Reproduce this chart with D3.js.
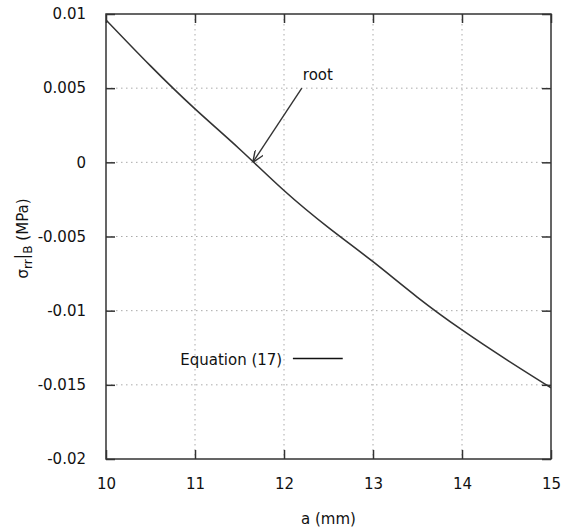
<!DOCTYPE html>
<html>
<head>
<meta charset="utf-8">
<script src="https://cdn.jsdelivr.net/npm/d3@7"></script>
<style>
  body { margin: 0; background: #fff; }
  text { font-family: "DejaVu Sans", Verdana, sans-serif; font-size: 15px; fill: #111; }
</style>
</head>
<body>
<svg width="561" height="529"></svg>
<script>
// Data
var aValues = [10, 10.5, 11, 11.5, 12, 12.5, 13, 13.5, 14, 14.5, 15];
var sigmaValues = [0.0096, 0.0065, 0.0036, 0.0009, -0.0019, -0.0044, -0.0067, -0.0091, -0.0113, -0.0133, -0.0152];
var xTicks = [10, 11, 12, 13, 14, 15];
var yTicks = [0.01, 0.005, 0, -0.005, -0.01, -0.015, -0.02];
var yTickLabels = ['0.01', '0.005', '0', '-0.005', '-0.01', '-0.015', '-0.02'];
var rootPoint = { a: 11.65, s: 0 };
var arrowTail = { a: 12.2, s: 0.005 };
var seriesName = 'Equation (17)';

var svg = d3.select('svg');

var margin = { left: 106, right: 10, top: 14, bottom: 70 };
var width = 561 - margin.left - margin.right;
var height = 529 - margin.top - margin.bottom;

var x = d3.scaleLinear().domain([10, 15]).range([0, width]);
var y = d3.scaleLinear().domain([-0.02, 0.01]).range([height, 0]);

var g = svg.append('g')
  .attr('transform', 'translate(' + margin.left + ',' + margin.top + ')');

// grid lines (dotted)
g.append('g').selectAll('line')
  .data(xTicks.slice(1, -1))
  .enter().append('line')
  .attr('x1', function (d) { return x(d); }).attr('x2', function (d) { return x(d); })
  .attr('y1', 0).attr('y2', height)
  .attr('stroke', '#aaa').attr('stroke-width', 1).attr('stroke-dasharray', '1.5,3.5');

g.append('g').selectAll('line')
  .data(yTicks.slice(1, -1))
  .enter().append('line')
  .attr('y1', function (d) { return y(d); }).attr('y2', function (d) { return y(d); })
  .attr('x1', 0).attr('x2', width)
  .attr('stroke', '#aaa').attr('stroke-width', 1).attr('stroke-dasharray', '1.5,3.5');

// axes with inward ticks on all four sides
var xAxisBottom = d3.axisBottom(x).tickValues(xTicks).tickSize(-9).tickPadding(19).tickFormat(d3.format('d'));
var xAxisTop = d3.axisTop(x).tickValues(xTicks).tickSize(-9).tickFormat('');
var yAxisLeft = d3.axisLeft(y).tickValues(yTicks).tickSize(-9).tickPadding(20)
  .tickFormat(function (d, i) { return yTickLabels[i]; });
var yAxisRight = d3.axisRight(y).tickValues(yTicks).tickSize(-9).tickFormat('');

function styleAxis(sel) {
  sel.select('.domain').remove();
  sel.selectAll('.tick line').attr('stroke', '#333').attr('stroke-width', 1.5);
  sel.selectAll('.tick text').attr('font-size', 15).attr('font-family', '"DejaVu Sans", Verdana, sans-serif').attr('fill', '#111');
}

g.append('g').attr('transform', 'translate(0,' + height + ')').call(xAxisBottom).call(styleAxis);
g.append('g').call(xAxisTop).call(styleAxis);
g.append('g').call(yAxisLeft).call(styleAxis);
g.append('g').attr('transform', 'translate(' + width + ',0)').call(yAxisRight).call(styleAxis);

// border
g.append('rect')
  .attr('width', width).attr('height', height)
  .attr('fill', 'none').attr('stroke', '#333').attr('stroke-width', 1.5);

// clip for the curve
svg.append('defs').append('clipPath').attr('id', 'clip')
  .append('rect').attr('width', width).attr('height', height);

var line = d3.line()
  .curve(d3.curveNatural)
  .x(function (d, i) { return x(aValues[i]); })
  .y(function (d) { return y(d); });

g.append('path')
  .datum(sigmaValues)
  .attr('clip-path', 'url(#clip)')
  .attr('fill', 'none')
  .attr('stroke', '#333')
  .attr('stroke-width', 1.6)
  .attr('d', line);

// arrow pointing at the root
svg.append('defs').append('marker')
  .attr('id', 'head')
  .attr('viewBox', '0 0 12 10')
  .attr('refX', 12).attr('refY', 5)
  .attr('markerWidth', 12).attr('markerHeight', 10)
  .attr('markerUnits', 'userSpaceOnUse')
  .attr('orient', 'auto')
  .append('path')
  .attr('d', 'M0,0 L12,5 L0,10')
  .attr('fill', 'none').attr('stroke', '#333').attr('stroke-width', 1.4);

g.append('line')
  .attr('x1', x(arrowTail.a)).attr('y1', y(arrowTail.s))
  .attr('x2', x(rootPoint.a)).attr('y2', y(rootPoint.s))
  .attr('stroke', '#333').attr('stroke-width', 1.4)
  .attr('marker-end', 'url(#head)');

g.append('text')
  .attr('x', x(arrowTail.a) + 1).attr('y', y(arrowTail.s) - 8)
  .text('root');

// key
var keyY = y(-0.0133);
g.append('text')
  .attr('x', x(11.98)).attr('y', keyY + 5)
  .attr('text-anchor', 'end')
  .attr('font-size', 15.5)
  .text(seriesName);
g.append('line')
  .attr('x1', x(12.1)).attr('x2', x(12.66))
  .attr('y1', keyY - 1).attr('y2', keyY - 1)
  .attr('stroke', '#111').attr('stroke-width', 1.5);

// axis titles
svg.append('text')
  .attr('x', margin.left + width / 2).attr('y', 524)
  .attr('text-anchor', 'middle')
  .text('a (mm)');

var yTitle = svg.append('text')
  .attr('transform', 'translate(28,' + (margin.top + height / 2 + 2) + ') rotate(-90)')
  .attr('text-anchor', 'middle')
  .attr('font-size', 16);
yTitle.append('tspan').text('σ');
yTitle.append('tspan').attr('font-size', 12).attr('dy', 4).text('rr');
yTitle.append('tspan').attr('dy', -4).attr('font-size', 17).text('|');
yTitle.append('tspan').attr('font-size', 12).attr('dy', 4).text('B');
yTitle.append('tspan').attr('dy', -4).text(' (MPa)');
</script>
</body>
</html>
